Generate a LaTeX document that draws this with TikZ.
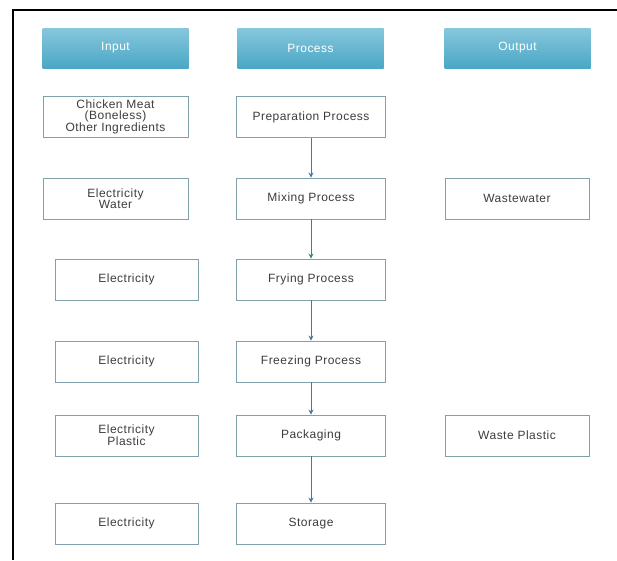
\documentclass[tikz,border=0pt]{standalone}
\usepackage{fontspec}
\setmainfont[LetterSpace=4]{Liberation Sans}
\usepackage{xcolor}
\usetikzlibrary{arrows.meta}

\definecolor{headtop}{HTML}{86C7DB}
\definecolor{headbot}{HTML}{4AA7C6}
\definecolor{boxline}{HTML}{7FA2AD}
\definecolor{flowline}{HTML}{3F7E92}
\definecolor{txt}{HTML}{3C3C3C}

\begin{document}
\begin{tikzpicture}[x=1pt,y=-1pt,
		head/.style={minimum width=146pt,minimum height=40pt,inner sep=0pt,top color=headtop,bottom color=headbot,draw=none,text=white,font=\fontsize{12}{11}\selectfont},
		inbox/.style={draw=boxline,line width=0.9pt,minimum width=145pt,minimum height=41pt,inner sep=0pt,align=center,text=txt,font=\fontsize{12}{11}\selectfont},
		procbox/.style={inbox,minimum width=149pt},
		flow/.style={draw=flowline,line width=0.9pt,-{Stealth[length=5pt,width=5pt]}}]
			\useasboundingbox (0,0) rectangle (617,560);
			\draw[black,line width=1.6pt] (617,10) -- (13,10) -- (13,560);

			% headers
			\node[head] (hin) at (115.5,48){Input};
			\node[head] (hproc) at (310.5,48){Process};
			\node[head] (hout) at (517.5,48){Output};

			% input column
			\node[inbox] (in1) at (115.5,117){Chicken Meat\\(Boneless)\\Other Ingredients};
			\node[inbox] (in2) at (115.5,198.5){Electricity\\Water};
			\node[inbox,minimum width=143pt] (in3) at (126.5,279.5){Electricity};
			\node[inbox,minimum width=143pt] (in4) at (126.5,361.5){Electricity};
			\node[inbox,minimum width=143pt] (in5) at (126.5,435.5){Electricity\\Plastic};
			\node[inbox,minimum width=143pt] (in6) at (126.5,523.5){Electricity};

			% process column
			\node[procbox] (p1) at (311,117){Preparation Process};
			\node[procbox] (p2) at (311,198.5){Mixing Process};
			\node[procbox] (p3) at (311,279.5){Frying Process};
			\node[procbox] (p4) at (311,361.5){Freezing Process};
			\node[procbox] (p5) at (311,435.5){Packaging};
			\node[procbox] (p6) at (311,523.5){Storage};

			% output column
			\node[inbox,minimum width=144pt] (out2) at (517,198.5){Wastewater};
			\node[inbox,minimum width=144pt] (out5) at (517,435.5){Waste Plastic};

			\foreach \a/\b in {p1/p2,p2/p3,p3/p4,p4/p5,p5/p6}
			{
				\draw[flow] (\a.south) -- (\b.north);
			}
		\end{tikzpicture}
\end{document}
